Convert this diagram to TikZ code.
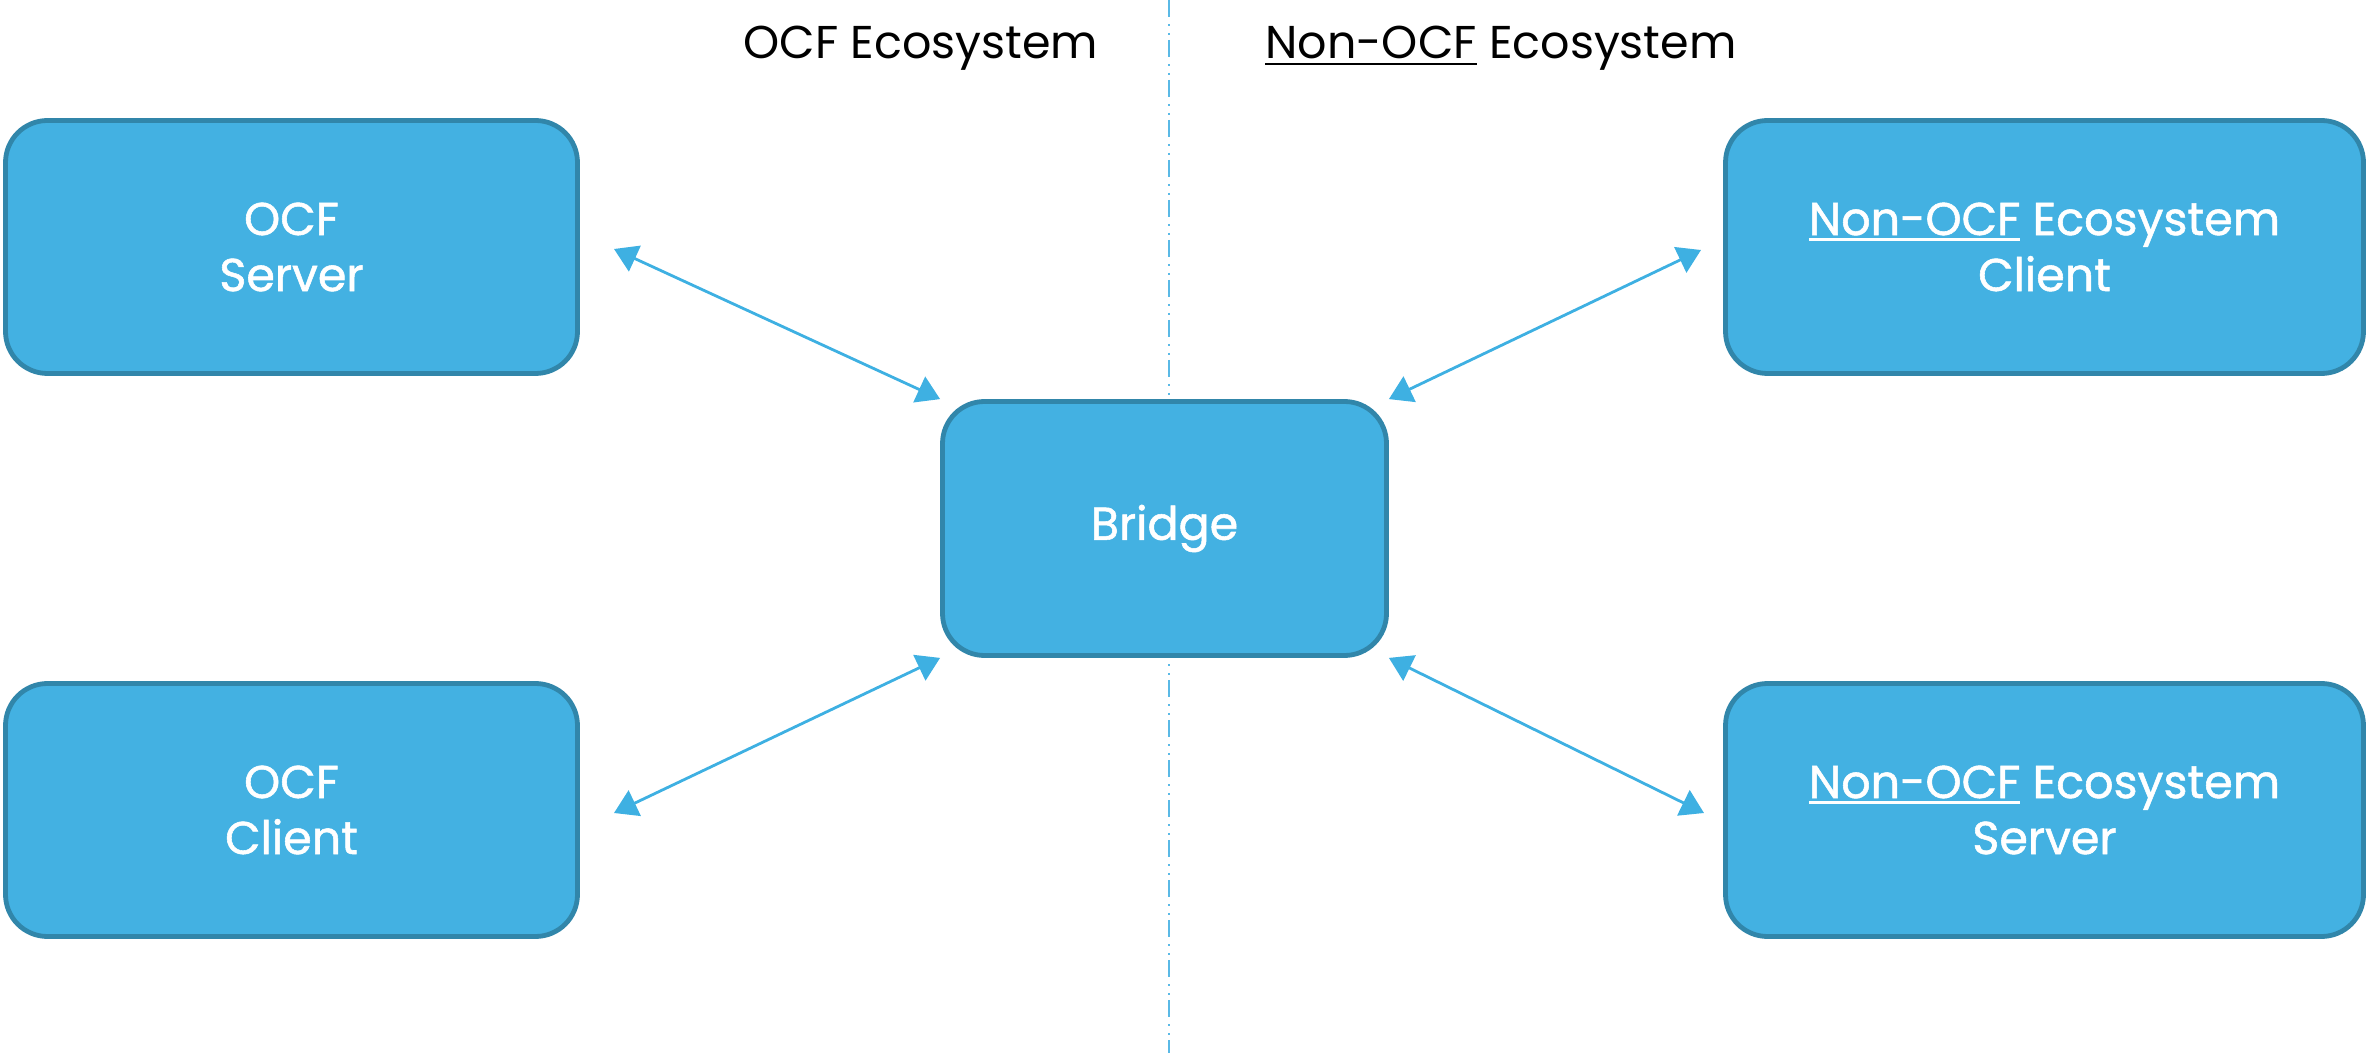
\documentclass[tikz,border=0pt]{standalone}
\usepackage{fontspec}
\setmainfont{Poppins}
\newfontfamily\boxfont[FakeBold=1.2]{Poppins}
\usetikzlibrary{arrows.meta}
\definecolor{boxfill}{RGB}{67,177,226}
\definecolor{boxline}{RGB}{49,134,170}
\definecolor{arrowc}{RGB}{62,176,226}
\definecolor{divline}{RGB}{90,185,230}
\newcommand\myul[2]{\setbox0\hbox{#1}\rlap{\rule[-3pt]{\wd0}{#2}}\box0\relax}
\begin{document}
\begin{tikzpicture}[x=0.5pt,y=-0.5pt,
  box/.style={draw=boxline, line width=2.4pt, fill=boxfill, rounded corners=21pt,
    text=white, align=center, font=\boxfont\fontsize{23}{28}\selectfont, inner sep=0pt},
  sidebox/.style={box, minimum width=286pt, minimum height=126.5pt},
  rightbox/.style={box, minimum width=319pt, minimum height=126.5pt},
  link/.style={arrowc, line width=1.4pt,
    {Triangle[length=11.5pt,width=14pt]}-{Triangle[length=11.5pt,width=14pt]}},
  hdr/.style={font=\fontsize{23}{26}\selectfont, anchor=base, inner sep=0pt},
  divider/.style={divline, line width=0.8pt,
    dash pattern=on 8.5pt off 3.5pt on 1pt off 3.5pt on 1pt off 2.5pt}]
\useasboundingbox (0,0) rectangle (2368,1053);

% divider
\coordinate (dtop) at (1169,0);
\coordinate (dbot) at (1169,1053);
\draw[divider] (dtop) -- (dbot);

% headers
\node[hdr] (hl) at (921,58.6) {OCF Ecosystem};
\node[hdr] (hr) at (1501,58.6) {\myul{Non-OCF}{1pt} Ecosystem};

% boxes
\node[sidebox] (srv) at (291.5,247) {OCF\\Server};
\node[sidebox] (cli) at (291.5,810) {OCF\\Client};
\node[box, minimum width=222pt, minimum height=127pt] (bri) at (1164.5,528.5) {Bridge};
\node[rightbox] (nclient) at (2044.5,247) {\myul{Non-OCF}{1.4pt} Ecosystem\\Client};
\node[rightbox] (nserver) at (2044.5,810) {\myul{Non-OCF}{1.4pt} Ecosystem\\Server};

% connectors
\coordinate (a1) at (614,249);
\coordinate (a2) at (614,813);
\coordinate (a3) at (1701,250);
\coordinate (a4) at (1704,813);
\draw[link] (a1) -- (bri.north west);
\draw[link] (a2) -- (bri.south west);
\draw[link] (a3) -- (bri.north east);
\draw[link] (a4) -- (bri.south east);
\end{tikzpicture}
\end{document}
